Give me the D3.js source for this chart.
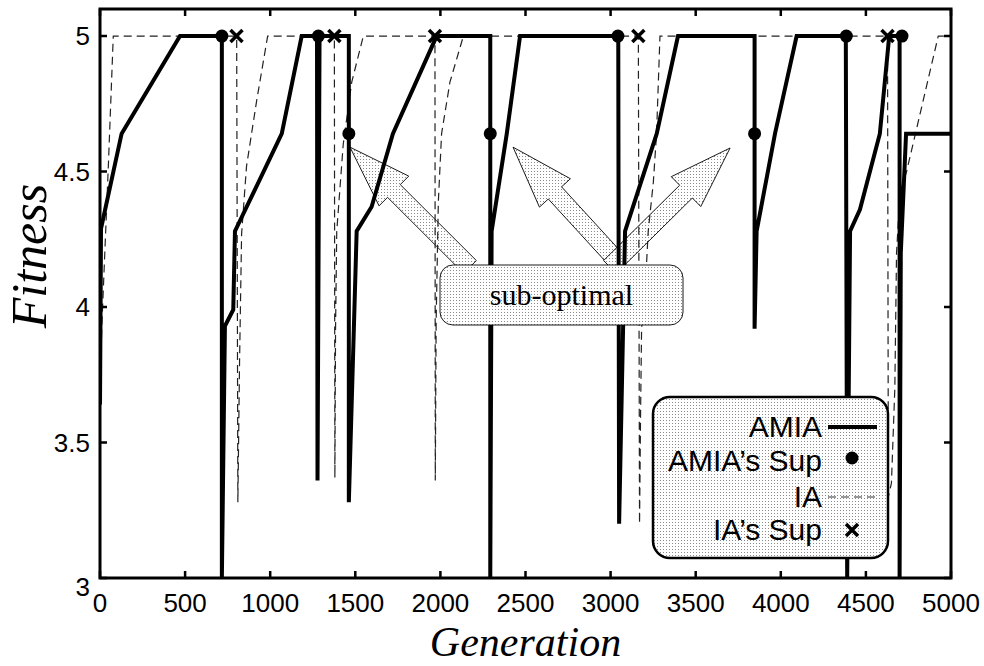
<!DOCTYPE html>
<html>
<head>
<meta charset="utf-8">
<script src="https://cdn.jsdelivr.net/npm/d3@7"></script>
<style>
body { margin: 0; background: #fff; }
</style>
</head>
<body>
<div id="chart"></div>
<script>

// AMIA run (thick solid line)
var amiaGen = [0, 6, 127, 470, 716, 716, 734, 783, 793, 1068, 1185, 1275, 1278, 1290, 1462, 1462, 1508, 1596, 1721, 1978,
               2293, 2293, 2301, 2390, 2468, 3045, 3050, 3085, 3271, 3396, 3846, 3846, 3858, 3966, 4093, 4382, 4390,
               4407, 4465, 4582, 4637, 4698, 4698, 4705, 4736, 5000];
var amiaFit = [3.64, 4.29, 4.64, 5, 5, 3.0, 3.93, 3.99, 4.28, 4.64, 5, 5, 3.36, 5, 5, 3.28, 4.28, 4.37, 4.64, 5,
               5, 3.0, 4.28, 4.64, 5, 5, 3.2, 4.28, 4.64, 5, 5, 3.92, 4.28, 4.64, 5, 5, 3.0,
               4.28, 4.36, 4.64, 5, 5, 3.0, 4.2, 4.64, 4.64];

// IA run (thin dashed line)
var iaGen = [0, 10, 49, 78, 803, 810, 820, 832, 861, 920, 985, 1377, 1380, 1384, 1391, 1429, 1479, 1547,
             1968, 1970, 1975, 1988, 2007, 2056, 2135, 3163, 3170, 3176, 3182, 3212, 3221, 3251, 3270, 3290,
             4627, 4632, 4650, 4670, 4680, 4700, 4739, 4925, 5000];
var iaFit = [3.6, 3.92, 4.52, 5, 5, 3.28, 3.8, 4.27, 4.52, 4.76, 5, 5, 3.37, 3.92, 4.28, 4.6, 4.83, 5,
             5, 3.36, 3.95, 4.39, 4.64, 4.83, 5, 5, 3.2, 3.6, 3.92, 4.17, 4.28, 4.46, 4.64, 5,
             5, 3.3, 3.35, 3.7, 4.2, 4.42, 4.5, 5, 5];

// superior individuals
var amiaSupGen = [716, 1283, 1462, 2293, 3043, 3846, 4385, 4712];
var amiaSupFit = [5, 5, 4.64, 4.64, 5, 4.64, 5, 5];
var iaSupGen = [802, 1377, 1968, 3163, 4627];
var iaSupFit = [5, 5, 5, 5, 5];

var xTicks = [0, 500, 1000, 1500, 2000, 2500, 3000, 3500, 4000, 4500, 5000];
var yTicks = [3, 3.5, 4, 4.5, 5];
var legendLabels = ["AMIA", "AMIA\u2019s Sup", "IA", "IA\u2019s Sup"];

// "sub-optimal" arrows: tip and tail in data units
var arrowTipGen = [1469, 2427, 3702];
var arrowTipFit = [4.59, 4.59, 4.587];
var arrowTailGen = [2174, 3061, 2996];
var arrowTailFit = [4.148, 4.155, 4.148];

var W = 984, H = 666;
var margin = {top: 9, right: 33, bottom: 88, left: 100};

var svg = d3.select("#chart").append("svg")
    .attr("width", W)
    .attr("height", H)
    .style("background-color", "white");

var x = d3.scaleLinear().domain([0, 5000]).range([margin.left, W - margin.right]);
var y = d3.scaleLinear().domain([3, 5.1]).range([H - margin.bottom, margin.top]);

// stipple pattern for the boxes and arrows
var defs = svg.append("defs");
defs.append("pattern")
    .attr("id", "dots")
    .attr("width", 3).attr("height", 3)
    .attr("patternUnits", "userSpaceOnUse")
  .call(function (p) {
    p.append("rect").attr("width", 3).attr("height", 3).attr("fill", "#fff");
    p.append("rect").attr("width", 1).attr("height", 1).attr("fill", "#8a8a8a");
  });
defs.append("clipPath").attr("id", "plotclip")
  .append("rect")
    .attr("x", x(0)).attr("y", y(5.1))
    .attr("width", x(5000) - x(0)).attr("height", y(3) - y(5.1) + 2);

// arrows (behind the curves)
function arrowPoints(px, py, tx, ty) {
  var dx = tx - px, dy = ty - py, len = Math.sqrt(dx * dx + dy * dy);
  var ux = dx / len, uy = dy / len, nx = -uy, ny = ux;
  var L = 62, hw = 21, sw = 9;
  var bx = px + ux * L, by = py + uy * L;
  return [
    [px, py],
    [bx + nx * hw, by + ny * hw],
    [bx + nx * sw, by + ny * sw],
    [tx + nx * sw, ty + ny * sw],
    [tx - nx * sw, ty - ny * sw],
    [bx - nx * sw, by - ny * sw],
    [bx - nx * hw, by - ny * hw]
  ];
}
svg.append("g").selectAll("polygon")
    .data(d3.range(arrowTipGen.length))
  .enter().append("polygon")
    .attr("points", function (i) {
      return arrowPoints(x(arrowTipGen[i]), y(arrowTipFit[i]), x(arrowTailGen[i]), y(arrowTailFit[i]))
        .map(function (p) { return p.join(","); }).join(" ");
    })
    .attr("fill", "url(#dots)")
    .attr("stroke", "#000")
    .attr("stroke-width", 0.9);

var line = d3.line()
    .x(function (d) { return x(d[0]); })
    .y(function (d) { return y(d[1]); });

var plot = svg.append("g").attr("clip-path", "url(#plotclip)");

plot.append("path")
    .datum(d3.zip(iaGen, iaFit))
    .attr("d", line)
    .attr("fill", "none")
    .attr("stroke", "#222")
    .attr("stroke-width", 1.2)
    .attr("stroke-dasharray", "8,5");

plot.append("path")
    .datum(d3.zip(amiaGen, amiaFit))
    .attr("d", line)
    .attr("fill", "none")
    .attr("stroke", "#000")
    .attr("stroke-width", 4)
    .attr("stroke-linejoin", "miter")
    .attr("stroke-miterlimit", 2);

// AMIA's Sup dots
svg.append("g").selectAll("circle")
    .data(d3.zip(amiaSupGen, amiaSupFit))
  .enter().append("circle")
    .attr("cx", function (d) { return x(d[0]); })
    .attr("cy", function (d) { return y(d[1]); })
    .attr("r", 6.5)
    .attr("fill", "#000");

// IA's Sup crosses
function cross(g, cx, cy, s) {
  g.append("path")
    .attr("d", "M" + (cx - s) + "," + (cy - s) + "L" + (cx + s) + "," + (cy + s) +
               "M" + (cx - s) + "," + (cy + s) + "L" + (cx + s) + "," + (cy - s))
    .attr("stroke", "#000")
    .attr("stroke-width", 3.5)
    .attr("fill", "none");
}
var crosses = svg.append("g");
d3.zip(iaSupGen, iaSupFit).forEach(function (d) { cross(crosses, x(d[0]), y(d[1]), 6); });

// "sub-optimal" box
var note = svg.append("g");
note.append("rect")
    .attr("x", 440).attr("y", 265)
    .attr("width", 243).attr("height", 60)
    .attr("rx", 13)
    .attr("fill", "url(#dots)")
    .attr("stroke", "#000")
    .attr("stroke-width", 0.9);
note.append("text")
    .attr("x", 561.5).attr("y", 305)
    .attr("text-anchor", "middle")
    .style("font-family", "'Liberation Serif', 'Times New Roman', serif")
    .style("font-size", "30px")
    .text("sub-optimal");

// frame, axes and ticks
var axisFont = "'Liberation Sans', Arial, Helvetica, sans-serif";
var axes = svg.append("g");
axes.selectAll(".xt").data(xTicks).enter().append("path")
    .attr("d", function (d) {
      return "M" + x(d) + "," + y(3) + "v-7M" + x(d) + "," + y(5.1) + "v7";
    })
    .attr("stroke", "#000").attr("stroke-width", 2.5);
axes.selectAll(".yt").data(yTicks).enter().append("path")
    .attr("d", function (d) {
      return "M" + x(0) + "," + y(d) + "h7M" + x(5000) + "," + y(d) + "h-7";
    })
    .attr("stroke", "#000").attr("stroke-width", 2.5);
axes.append("rect")
    .attr("x", x(0)).attr("y", y(5.1))
    .attr("width", x(5000) - x(0)).attr("height", y(3) - y(5.1))
    .attr("fill", "none")
    .attr("stroke", "#000")
    .attr("stroke-width", 3);

axes.selectAll(".xl").data(xTicks).enter().append("text")
    .attr("x", function (d) { return x(d); })
    .attr("y", y(3) + 34)
    .attr("text-anchor", "middle")
    .style("font-family", axisFont)
    .style("font-size", "26px")
    .text(function (d) { return d; });
axes.selectAll(".yl").data(yTicks).enter().append("text")
    .attr("x", x(0) - 10)
    .attr("y", function (d) { return y(d) + (d === 3 ? 18 : 9); })
    .attr("text-anchor", "end")
    .style("font-family", axisFont)
    .style("font-size", "26px")
    .text(function (d) { return d; });

svg.append("text")
    .attr("x", (x(0) + x(5000)) / 2)
    .attr("y", 656)
    .attr("text-anchor", "middle")
    .style("font-family", "'Liberation Serif', 'Times New Roman', serif")
    .style("font-style", "italic")
    .style("font-size", "42px")
    .text("Generation");
svg.append("text")
    .attr("transform", "translate(46," + 256 + ") rotate(-90)")
    .attr("text-anchor", "middle")
    .style("font-family", "'Liberation Serif', 'Times New Roman', serif")
    .style("font-style", "italic")
    .style("font-size", "50px")
    .text("Fitness");

// legend
var lg = svg.append("g");
lg.append("rect")
    .attr("x", 653).attr("y", 397)
    .attr("width", 235).attr("height", 161)
    .attr("rx", 17)
    .attr("fill", "url(#dots)")
    .attr("stroke", "#000")
    .attr("stroke-width", 2.5);
var rowBase = [437, 471, 507, 540];
lg.selectAll("text").data(legendLabels).enter().append("text")
    .attr("x", 822)
    .attr("y", function (d, i) { return rowBase[i]; })
    .attr("text-anchor", "end")
    .style("font-family", axisFont)
    .style("font-size", "30px")
    .text(function (d) { return d; });
lg.append("line")
    .attr("x1", 828).attr("x2", 877).attr("y1", 427).attr("y2", 427)
    .attr("stroke", "#000").attr("stroke-width", 4);
lg.append("circle")
    .attr("cx", 852).attr("cy", 458).attr("r", 6.5).attr("fill", "#000");
lg.append("line")
    .attr("x1", 828).attr("x2", 877).attr("y1", 497).attr("y2", 497)
    .attr("stroke", "#333").attr("stroke-width", 1.2)
    .attr("stroke-dasharray", "8,5");
cross(lg, 852, 530, 6);

</script>
</body>
</html>
